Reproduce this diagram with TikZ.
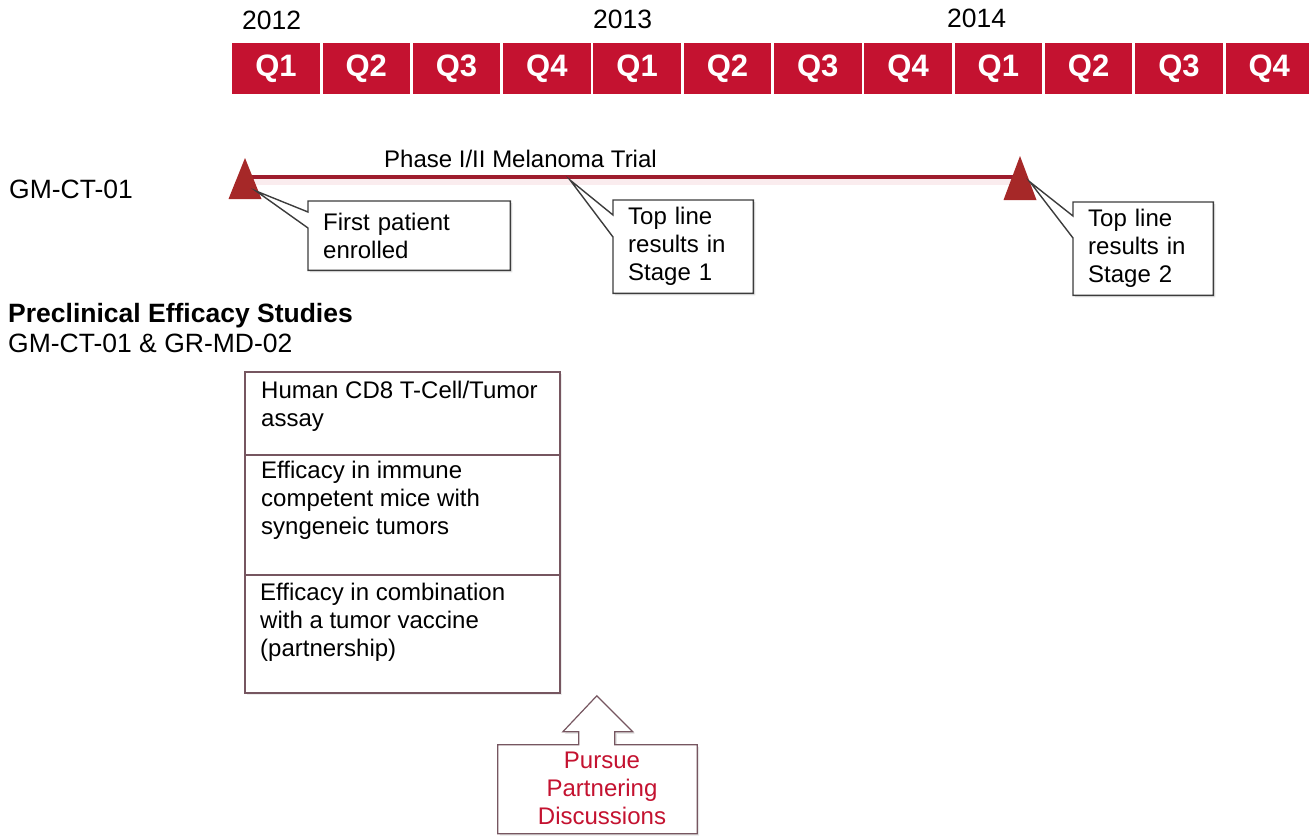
\documentclass[tikz,border=0pt]{standalone}
\usepackage{fontspec}
\setmainfont{Liberation Sans}
\usepackage{tikz}
\usetikzlibrary{
    backgrounds,
    calc,
    positioning,
    shadows,
}
\definecolor{qred}{RGB}{196,18,48}
\definecolor{trackred}{RGB}{158,28,45}
\definecolor{flagred}{RGB}{166,40,40}
\definecolor{framegray}{RGB}{60,60,60}
\definecolor{framemauve}{RGB}{118,86,96}
\tikzstyle{quarter}=[fill=qred, text=white, minimum width=87.5pt, minimum height=51pt, inner sep=0pt, font=\fontsize{31}{31}\selectfont\bfseries]
\tikzstyle{plaintxt}=[inner sep=0pt, anchor=base west, font=\fontsize{26.5}{30}\selectfont]
\tikzstyle{notetxt}=[inner xsep=15pt, inner ysep=0pt, align=left, anchor=north west, font=\fontsize{24}{28}\selectfont]
\tikzstyle{frame}=[draw=framegray, line width=1.4pt, fill=white, drop shadow={opacity=0.2, shadow xshift=2pt, shadow yshift=-2pt}]
\tikzstyle{studybox}=[draw=framemauve, line width=1.2pt, fill=white, outer sep=0pt, inner sep=0pt, minimum width=315pt, drop shadow={opacity=0.15, shadow xshift=2pt, shadow yshift=-2pt}]
\tikzstyle{studytxt}=[inner sep=0pt, align=left, font=\fontsize{24}{28}\selectfont]

\begin{document}
\begin{tikzpicture}[x=1pt, y=-1pt]
    \useasboundingbox (0,0) rectangle (1309,839);

    % quarters
    \node[quarter, anchor=west] (q1a) at (232,68.5) {Q1};
    \node[quarter, right=2.4pt of q1a] (q2a) {Q2};
    \node[quarter, right=2.4pt of q2a] (q3a) {Q3};
    \node[quarter, right=2.4pt of q3a] (q4a) {Q4};
    \node[quarter, right=2.4pt of q4a] (q1b) {Q1};
    \node[quarter, right=2.4pt of q1b] (q2b) {Q2};
    \node[quarter, right=2.4pt of q2b] (q3b) {Q3};
    \node[quarter, right=2.4pt of q3b] (q4b) {Q4};
    \node[quarter, right=2.4pt of q4b] (q1c) {Q1};
    \node[quarter, right=2.4pt of q1c] (q2c) {Q2};
    \node[quarter, right=2.4pt of q2c] (q3c) {Q3};
    \node[quarter, right=2.4pt of q3c] (q4c) {Q4};

    \node[plaintxt] (y2012) at (242,29) {2012};
    \node[plaintxt] (y2013) at (593,28) {2013};
    \node[plaintxt] (y2014) at (947,27) {2014};

    % trial
    \node[plaintxt] (gmct) at (9,198) {GM-CT-01};
    \node[plaintxt, font=\fontsize{24}{28}\selectfont] (trial) at (384,167) {Phase I/II Melanoma Trial};
    \coordinate (m1) at (245,177);
    \coordinate (m2) at (1020,177);
    \coordinate (tip1) at (256,191);
    \coordinate (tip2) at (570,180);
    \coordinate (tip3) at (1030,182);

    \node[notetxt, text width=172pt, minimum height=69pt] (firstpt) at (308,201) {First patient\\enrolled};
    \node[notetxt, text width=110pt, minimum height=93pt] (stage1) at (613,200) {Top line\\results in\\Stage 1};
    \node[notetxt, text width=110pt, minimum height=93pt] (stage2) at (1073,202) {Top line\\results in\\Stage 2};

    % preclinical
    \node[plaintxt, font=\fontsize{26.5}{30}\selectfont\bfseries] (preclin) at (8,322) {Preclinical Efficacy Studies};
    \node[plaintxt] (compounds) at (8,352) {GM-CT-01 \& GR-MD-02};

    \node[studybox, minimum height=83pt, anchor=north west] (boxA) at (245,372) {};
    \node[studybox, minimum height=120pt, below=0pt of boxA] (boxB) {};
    \node[studybox, minimum height=118pt, below=0pt of boxB] (boxC) {};
    \node[studytxt, below right=8.5pt and 16pt of boxA.north west] (assay) {Human CD8 T-Cell/Tumor\\assay};
    \node[studytxt, below right=5.5pt and 16pt of boxB.north west] (mice) {Efficacy in immune\\competent mice with\\syngeneic tumors};
    \node[studytxt, below right=7.5pt and 15pt of boxC.north west] (vaccine) {Efficacy in combination\\with a tumor vaccine\\(partnership)};

    \node[minimum width=199pt, minimum height=91pt, inner sep=0pt, align=center, text=qred, font=\fontsize{24}{28}\selectfont] (pursue) at (597.5,788) {\hspace*{9pt}Pursue\\\hspace*{9pt}Partnering\\\hspace*{9pt}Discussions};

    \begin{scope}[on background layer]
        \draw[line width=8pt, qred!8] ($(m1)+(0,4)$) -- ($(m2)+(0,4)$);
        \draw[line width=4.5pt, trackred] (m1) -- (m2);
        \fill[flagred] (m1) +(0,-19) -- +(-16.5,22) -- +(16.5,22) -- cycle;
        \fill[flagred] (m2) +(0,-21) -- +(-16.5,23) -- +(16.5,23) -- cycle;
        \draw[frame] (firstpt.north west) -- (firstpt.north east) -- (firstpt.south east) -- (firstpt.south west) -- ($(firstpt.north west)+(0,27)$) -- (tip1) -- ($(firstpt.north west)+(0,11)$) -- cycle;
        \draw[frame] (stage1.north west) -- (stage1.north east) -- (stage1.south east) -- (stage1.south west) -- ($(stage1.north west)+(0,37)$) -- (tip2) -- ($(stage1.north west)+(0,15)$) -- cycle;
        \draw[frame] (stage2.north west) -- (stage2.north east) -- (stage2.south east) -- (stage2.south west) -- ($(stage2.north west)+(0,36)$) -- (tip3) -- ($(stage2.north west)+(0,14)$) -- cycle;
        \draw[frame, draw=framemauve, line width=1.2pt] ($(pursue.north west)+(0,2.5)$) -- ++(81,0) -- ++(0,-13) -- ++(-16,0) -- ++(34,-36) -- ++(36,36) -- ++(-18,0) -- ++(0,13) -- ($(pursue.north east)+(0,2.5)$) -- (pursue.south east) -- (pursue.south west) -- cycle;
    \end{scope}
\end{tikzpicture}
\end{document}
